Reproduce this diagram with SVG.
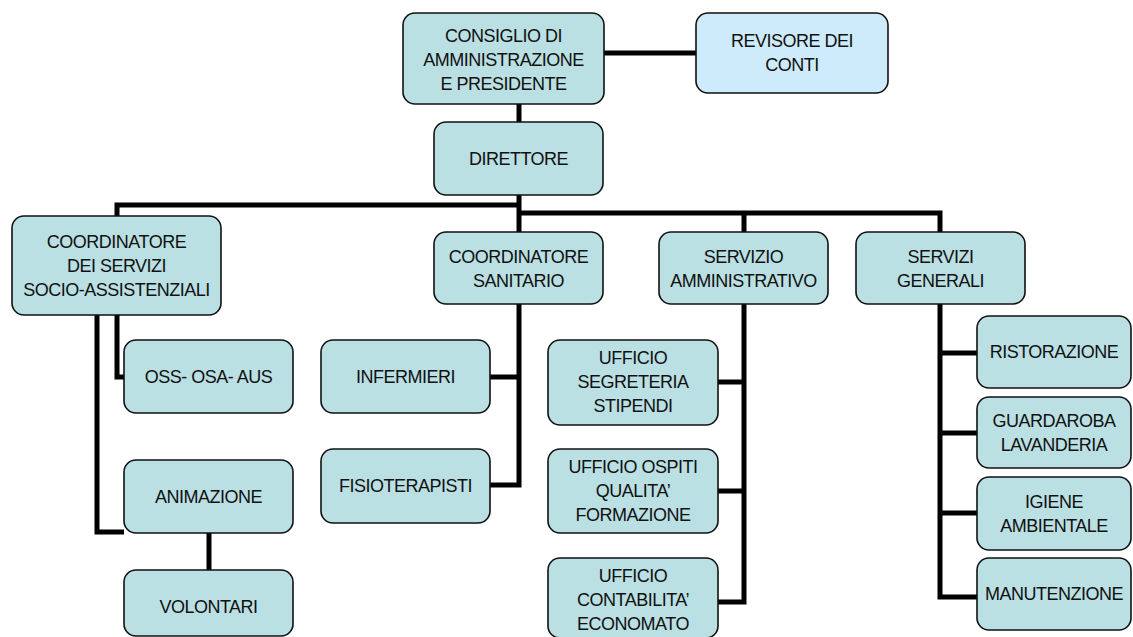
<svg xmlns="http://www.w3.org/2000/svg" width="1133" height="637" viewBox="0 0 1133 637">
<style>
.b{fill:#BAE0E3;stroke:#111;stroke-width:1.6}
.r{fill:#CDEBFA;stroke:#111;stroke-width:1.6}
text{font-family:"Liberation Sans",Arial,sans-serif;font-size:18px;fill:#111;text-anchor:middle;letter-spacing:-0.5px}
.c{fill:none;stroke:#000;stroke-width:5;stroke-linejoin:miter}
</style>
<rect width="1133" height="637" fill="#fff"/>
<g id="connectors" class="c">
<path d="M604,53H696"/>
<path d="M519,104V122"/>
<path d="M519,195V232"/>
<path d="M519,205H117V216"/>
<path d="M519,213H940V232"/>
<path d="M744,213V232"/>
<path d="M117,315V377H124"/>
<path d="M97,315V532H124"/>
<path d="M209,533V570"/>
<path d="M519,304V485H490"/>
<path d="M490,377H519"/>
<path d="M744,304V602H718"/>
<path d="M718,382H744"/>
<path d="M718,491H744"/>
<path d="M940,304V597H977"/>
<path d="M940,353H977"/>
<path d="M940,433H977"/>
<path d="M940,513H977"/>
</g>
<g id="consiglio"><rect class="b" x="403" y="13" width="201" height="91" rx="12"/><text x="503.5" y="42">CONSIGLIO DI</text><text x="503.5" y="66">AMMINISTRAZIONE</text><text x="503.5" y="90">E PRESIDENTE</text></g>
<g id="revisore"><rect class="r" x="696" y="13" width="192" height="80" rx="12"/><text x="792" y="47">REVISORE DEI</text><text x="792" y="71">CONTI</text></g>
<g id="direttore"><rect class="b" x="434" y="122" width="169" height="73" rx="12"/><text x="518.5" y="165">DIRETTORE</text></g>
<g id="coord-ssa"><rect class="b" x="12" y="216" width="209" height="99" rx="12"/><text x="116.5" y="248">COORDINATORE</text><text x="116.5" y="272">DEI SERVIZI</text><text x="116.5" y="296">SOCIO-ASSISTENZIALI</text></g>
<g id="coord-san"><rect class="b" x="434" y="232" width="169" height="72" rx="12"/><text x="518.5" y="263">COORDINATORE</text><text x="518.5" y="287">SANITARIO</text></g>
<g id="serv-amm"><rect class="b" x="659" y="232" width="169" height="72" rx="12"/><text x="743.5" y="263">SERVIZIO</text><text x="743.5" y="287">AMMINISTRATIVO</text></g>
<g id="serv-gen"><rect class="b" x="856" y="232" width="169" height="72" rx="12"/><text x="940.5" y="263">SERVIZI</text><text x="940.5" y="287">GENERALI</text></g>
<g id="oss"><rect class="b" x="124" y="340" width="169" height="73" rx="12"/><text x="208.5" y="383">OSS- OSA- AUS</text></g>
<g id="animazione"><rect class="b" x="124" y="460" width="169" height="73" rx="12"/><text x="208.5" y="503">ANIMAZIONE</text></g>
<g id="volontari"><rect class="b" x="124" y="570" width="169" height="66" rx="12"/><text x="208.5" y="613">VOLONTARI</text></g>
<g id="infermieri"><rect class="b" x="321" y="340" width="169" height="73" rx="12"/><text x="405.5" y="383">INFERMIERI</text></g>
<g id="fisioterapisti"><rect class="b" x="321" y="449" width="169" height="74" rx="12"/><text x="405.5" y="492">FISIOTERAPISTI</text></g>
<g id="uff-segreteria"><rect class="b" x="548" y="340" width="170" height="85" rx="12"/><text x="633" y="364">UFFICIO</text><text x="633" y="388">SEGRETERIA</text><text x="633" y="412">STIPENDI</text></g>
<g id="uff-ospiti"><rect class="b" x="548" y="449" width="170" height="84" rx="12"/><text x="633" y="473">UFFICIO OSPITI</text><text x="633" y="497">QUALITA’</text><text x="633" y="521">FORMAZIONE</text></g>
<g id="uff-contabilita"><rect class="b" x="548" y="558" width="170" height="80" rx="12"/><text x="633" y="582">UFFICIO</text><text x="633" y="606">CONTABILITA’</text><text x="633" y="630">ECONOMATO</text></g>
<g id="ristorazione"><rect class="b" x="977" y="316" width="154" height="72" rx="12"/><text x="1054" y="358">RISTORAZIONE</text></g>
<g id="guardaroba"><rect class="b" x="977" y="397" width="154" height="71" rx="12"/><text x="1054" y="427">GUARDAROBA</text><text x="1054" y="451">LAVANDERIA</text></g>
<g id="igiene"><rect class="b" x="977" y="477" width="154" height="73" rx="12"/><text x="1054" y="508">IGIENE</text><text x="1054" y="532">AMBIENTALE</text></g>
<g id="manutenzione"><rect class="b" x="977" y="558" width="154" height="72" rx="12"/><text x="1054" y="600">MANUTENZIONE</text></g>
</svg>
